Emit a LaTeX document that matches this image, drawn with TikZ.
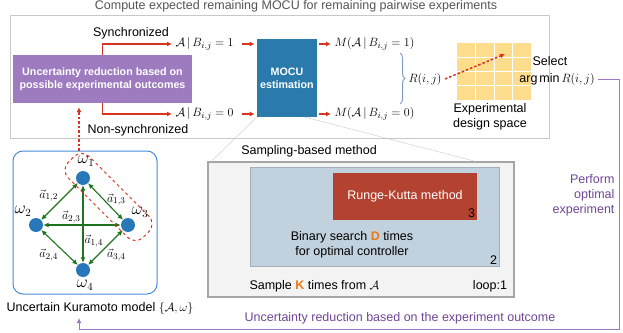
\documentclass[tikz,border=0pt]{standalone}
\usepackage{fontspec}
\setmainfont{Liberation Sans}
\usetikzlibrary{arrows.meta,calc,decorations.pathreplacing}
\definecolor{titlegray}{RGB}{85,85,85}
\definecolor{framegray}{RGB}{200,200,200}
\definecolor{reducepurple}{RGB}{158,123,191}
\definecolor{mocublue}{RGB}{43,122,172}
\definecolor{arrred}{RGB}{214,52,30}
\definecolor{bracecol}{RGB}{125,155,195}
\definecolor{gridyellow}{RGB}{253,220,140}
\definecolor{loopcol}{RGB}{160,120,200}
\definecolor{purpletext}{RGB}{110,70,150}
\definecolor{modelblue}{RGB}{70,140,215}
\definecolor{oscblue}{RGB}{40,120,185}
\definecolor{linkgreen}{RGB}{30,115,30}
\definecolor{sampgray}{RGB}{165,165,165}
\definecolor{sampfill}{RGB}{243,243,243}
\definecolor{binblue}{RGB}{193,209,221}
\definecolor{binborder}{RGB}{165,175,185}
\definecolor{rkred}{RGB}{180,66,48}
\definecolor{korange}{RGB}{235,120,20}

\begin{document}
\begin{tikzpicture}[x=1pt, y=-1pt, >={Latex[length=5pt, width=5pt]},
  font=\fontsize{12.5}{15}\selectfont,
  redarr/.style={->, draw=arrred, line width=1.3pt},
  reddash/.style={->, draw=arrred, line width=1.5pt, dash pattern=on 2.5pt off 2pt},
  link/.style={<->, draw=linkgreen, line width=1.1pt, >={Latex[length=5.5pt, width=5pt]}},
  osc/.style={circle, fill=oscblue, minimum size=14pt, inner sep=0pt},
  omega/.style={font=\fontsize{16}{18}\selectfont, inner sep=0pt},
  weight/.style={inner sep=1pt},
  whitebold/.style={text=white, font=\fontsize{10.7}{13}\selectfont\bfseries, align=center}]
  \useasboundingbox (0,0) rectangle (623,332);

  \node[text=titlegray] (title) at (296,6) {Compute expected remaining MOCU for remaining pairwise experiments};
  \draw[framegray] (10,15) rectangle (549,138);

  \node[fill=reducepurple, minimum width=179pt, minimum height=48pt, whitebold] (reduce) at (102.5,79) {Uncertainty reduction based on\\possible experimental outcomes};
  \node[fill=mocublue, minimum width=60pt, minimum height=78pt, whitebold] (mocu) at (287,78) {MOCU\\estimation};
  \node (sync) at (131,33) {Synchronized};
  \node (nonsync) at (138,130) {Non-synchronized};
  \node[anchor=west] (given1) at (172,44) {$\mathcal{A}\,|\,B_{i,j}=1$};
  \node[anchor=west] (given0) at (172,114) {$\mathcal{A}\,|\,B_{i,j}=0$};
  \draw[redarr] (reduce.north) |- (given1.west);
  \draw[redarr] (reduce.south) |- (given0.west);
  \draw[redarr, shorten >=2pt] ($(mocu.west |- given1)+(-15,0)$) -- (mocu.west |- given1);
  \draw[redarr, shorten >=2pt] ($(mocu.west |- given0)+(-15,0)$) -- (mocu.west |- given0);

  \node[anchor=west] (mocu1) at (331,44) {$M(\mathcal{A}\,|\,B_{i,j}=1)$};
  \node[anchor=west] (mocu0) at (331,114) {$M(\mathcal{A}\,|\,B_{i,j}=0)$};
  \draw[redarr] ($(mocu.east |- mocu1)+(2,0)$) -- (mocu1.west);
  \draw[redarr] ($(mocu.east |- mocu0)+(2,0)$) -- (mocu0.west);
  \draw[bracecol, line width=1pt, decorate, decoration={brace, amplitude=5pt}] (400,53) -- (400,104);
  \node[anchor=west] (risk) at (405,79) {$R(i,j)$};

  \node[fill=gridyellow, minimum width=74pt, minimum height=57pt, inner sep=0pt] (space) at (494,71.5) {};
  \foreach \f in {0.25,0.5,0.75} {
    \draw[white, line width=1pt] ($(space.north west)!\f!(space.north east)$) -- ($(space.south west)!\f!(space.south east)$);
    \draw[white, line width=1pt] ($(space.north west)!\f!(space.south west)$) -- ($(space.north east)!\f!(space.south east)$);
  }
  \coordinate (pick) at (505,54);
  \draw[reddash] (risk.east) -- (pick);
  \node (select) at (550,61) {Select};
  \node (argmin) at (557,79) {$\arg\min R(i,j)$};
  \node[align=center] (design) at (490,117) {Experimental\\design space};

  \coordinate (corner) at (619,329);
  \coordinate (back) at (79,318);
  \draw[->, loopcol, line width=1pt] (argmin.east) -| (corner) -| (back);
  \node[text=purpletext, align=right, anchor=east] (perform) at (618,195) {Perform\\optimal\\experiment};
  \node[text=purpletext] (outcome) at (400,318) {Uncertainty reduction based on the experiment outcome};

  \node[draw=modelblue, line width=1pt, rounded corners=10pt, minimum width=144pt, minimum height=143pt] (model) at (85,222.5) {};
  \coordinate (up) at ($(model.north)+(-6,0)$);
  \draw[reddash, shorten >=4pt] (up) -- (up |- reduce.south);
  \node[osc] (w1) at (83,178) {};
  \node[osc] (w2) at (36,225) {};
  \node[osc] (w3) at (128,225) {};
  \node[osc] (w4) at (83,270) {};
  \node[omega] at (86,161) {$\omega_1$};
  \node[omega] at (23,211) {$\omega_2$};
  \node[omega] at (140,212) {$\omega_3$};
  \node[omega] at (85,285) {$\omega_4$};
  \draw[link] (w1) -- (w2) node[weight, midway, left, yshift=6pt] {$\vec{a}_{1,2}$};
  \draw[link] (w1) -- (w3) node[weight, midway, right, yshift=2pt] {$\vec{a}_{1,3}$};
  \draw[link] (w2) -- (w3) node[weight, pos=.4, above, xshift=-3pt] {$\vec{a}_{2,3}$};
  \draw[link] (w1) -- (w4) node[weight, pos=.72, right] {$\vec{a}_{1,4}$};
  \draw[link] (w2) -- (w4) node[weight, midway, below left] {$\vec{a}_{2,4}$};
  \draw[link] (w3) -- (w4) node[weight, midway, below right] {$\vec{a}_{3,4}$};
  \node[draw=arrred, dashed, line width=1pt, rounded corners=11pt, rotate=-45, minimum width=106pt, minimum height=30pt] (pair) at (108.5,197) {};
  \node (modellabel) at (100,308) {Uncertain Kuramoto model $\big\{\mathcal{A},\omega\big\}$};

  \node (sampling) at (309,151) {Sampling-based method};
  \node[draw=sampgray, fill=sampfill, line width=1.2pt, minimum width=306pt, minimum height=135pt] (outer) at (361,229.5) {};
  \draw[framegray] (mocu.south west) -- ($(outer.north west)+(4,0)$);
  \draw[framegray] ($(mocu.south east)+(-12,0)$) -- ($(outer.north east)+(-39,0)$);
  \node[draw=binborder, fill=binblue, minimum width=249pt, minimum height=99pt] (inner) at (374.5,216.5) {};
  \node[fill=rkred, text=white, minimum width=144pt, minimum height=47pt] (rk) at (405,196.5) {Runge-Kutta method};
  \node[anchor=south east, inner sep=2pt] at (rk.south east) {3};
  \node[align=center] (binary) at (352,244.5) {Binary search \textcolor{korange}{\textbf{D}} times\\for optimal controller};
  \node[anchor=south east, inner sep=2pt] at (inner.south east) {2};
  \node[anchor=west] (sample) at (246,286) {Sample \textcolor{korange}{\textbf{K}} times from $\mathcal{A}$};
  \node (loop1) at (490,286) {loop:1};
\end{tikzpicture}
\end{document}
